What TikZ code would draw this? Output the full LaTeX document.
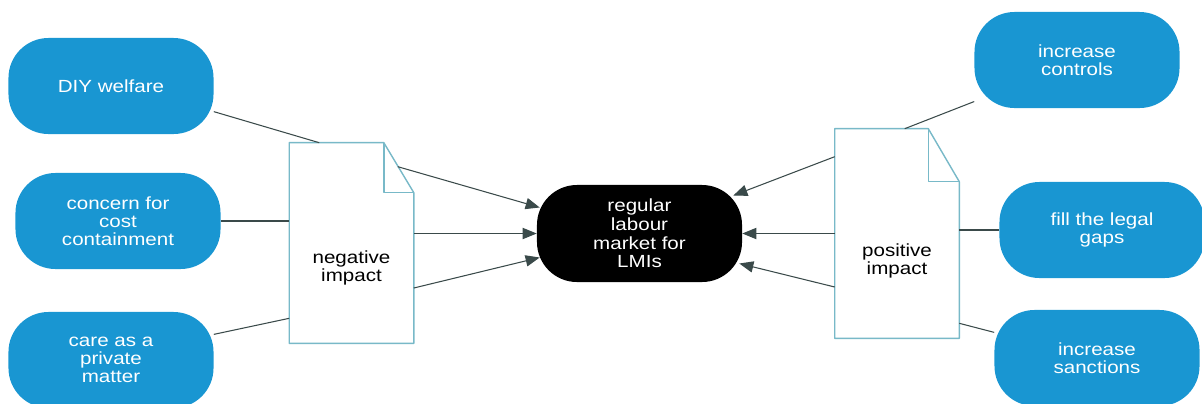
\documentclass[tikz,border=0pt]{standalone}
\usepackage{fontspec}
\setmainfont[FakeStretch=1.17]{Liberation Sans}
\definecolor{lmblue}{RGB}{25,150,210}
\definecolor{lmline}{RGB}{58,74,74}
\definecolor{lmdoc}{RGB}{120,185,200}
\usetikzlibrary{arrows.meta,calc}

\tikzset{
  factor/.style={fill=lmblue, rounded corners=1cm, minimum width=5.125cm, minimum height=2.4cm, text=white, align=center, font=\fontsize{12.5}{13}\selectfont, inner sep=2pt},
  target/.style={fill=black, rounded corners=1cm, minimum width=5.125cm, minimum height=2.425cm, text=white, align=center, font=\fontsize{12.5}{13.3}\selectfont, inner sep=2pt},
  doc/.style={minimum width=3.1cm, minimum height=5cm, inner sep=0pt},
  doctext/.style={align=center, font=\fontsize{12.5}{12.3}\selectfont},
  docline/.style={draw=lmdoc, line width=1pt, fill=white, line join=round},
  link/.style={draw=lmline, line width=0.75pt},
  push/.style={link, -{Triangle[length=10pt,width=8pt]}}
}

\begin{document}
\begin{tikzpicture}[x=0.025cm, y=-0.025cm]
  \useasboundingbox (0,0) rectangle (1202,403);

  % left hand factors
  \node[factor] (diy) at (111,86) {DIY welfare};
  \node[factor] (cost) at (118,221) {concern for\\cost\\containment};
  \node[factor] (care) at (111,360) {care as a\\private\\matter};

  % right hand factors
  \node[factor] (ctrl) at (1077,60) {increase\\controls};
  \node[factor] (gaps) at (1102,230) {fill the legal\\gaps};
  \node[factor] (sanc) at (1097,358) {increase\\sanctions};

  % centre
  \node[target] (lmi) at (639.5,233.5) {regular\\labour\\market for\\LMIs};

  % the two documents
  \node[doc] (neg) at (351.5,243) {};
  \draw[docline] (neg.north west) -- ($(neg.north east)+(-30,0)$) -- ($(neg.north east)+(0,50)$) -- (neg.south east) -- (neg.south west) -- cycle;
  \draw[docline, fill=none] ($(neg.north east)+(-30,0)$) -- ($(neg.north east)+(-30,50)$) -- ($(neg.north east)+(0,50)$);
  \node[doctext] (negtxt) at (351.5,268) {negative\\impact};

  \node[doc, minimum width=3.1cm, minimum height=5.225cm] (pos) at (897,233.5) {};
  \draw[docline] (pos.north west) -- ($(pos.north east)+(-31,0)$) -- ($(pos.north east)+(0,53)$) -- (pos.south east) -- (pos.south west) -- cycle;
  \draw[docline, fill=none] ($(pos.north east)+(-31,0)$) -- ($(pos.north east)+(-31,53)$) -- ($(pos.north east)+(0,53)$);
  \node[doctext] (postxt) at (897,261) {positive\\impact};

  % free ends on the documents
  \coordinate (negtop) at ($(neg.north west)+(30,0)$);
  \coordinate (negfold) at ($(neg.north east)+(-16,24)$);
  \coordinate (neglow) at ($(neg.south west)+(0,-25)$);
  \coordinate (postop) at ($(pos.north west)+(70,0)$);
  \coordinate (poslow) at ($(pos.south east)+(0,-15)$);

  % factors into documents
  \draw[link] (diy.-14) -- (negtop);
  \draw[link] (cost.east) -- (cost.east -| neg.west);
  \draw[link] (care.14) -- (neglow);
  \draw[link] (ctrl.202) -- (postop);
  \draw[link] (gaps.west) -- (gaps.west -| pos.east);
  \draw[link] (sanc.166) -- (poslow);

  % documents into the labour market
  \draw[push] (negfold) -- ($(lmi.west)+(3,-26)$);
  \draw[push] (neg.east |- lmi.west) -- (lmi.west);
  \draw[push] ($(neg.east)+(0,45)$) -- ($(lmi.west)+(3,24)$);
  \draw[push] ($(pos.north west)+(0,28)$) -- ($(lmi.east)+(-9,-38)$);
  \draw[push] (pos.west |- lmi.east) -- (lmi.east);
  \draw[push] ($(pos.west)+(0,53.5)$) -- ($(lmi.east)+(-3,30)$);
\end{tikzpicture}
\end{document}
